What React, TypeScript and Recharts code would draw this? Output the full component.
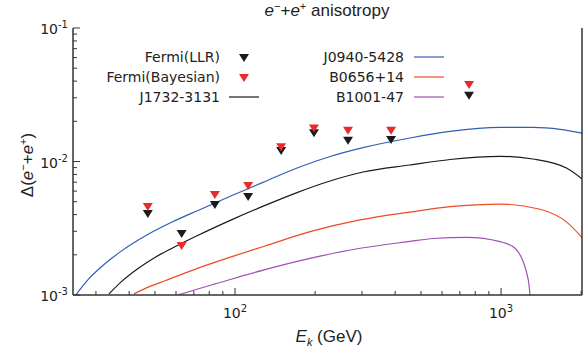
import { ComposedChart, Line, Scatter, XAxis, YAxis } from "recharts";

// tick positions (log axes)
const xTicks = [30, 40, 50, 60, 70, 80, 90, 100, 200, 300, 400, 500, 600, 700, 800, 900, 1000, 2000];
const yTicks = [
  0.001, 0.002, 0.003, 0.004, 0.005, 0.006, 0.007, 0.008, 0.009,
  0.01, 0.02, 0.03, 0.04, 0.05, 0.06, 0.07, 0.08, 0.09, 0.1,
];

// Fermi upper limits
const fermiE = [47, 63, 84, 112, 149, 198, 266, 386, 758];
const llrV = [0.00404, 0.00286, 0.00472, 0.00542, 0.012, 0.0163, 0.0143, 0.0145, 0.0311];
const bayesV = [0.00456, 0.00233, 0.00561, 0.00656, 0.0128, 0.0177, 0.017, 0.017, 0.0374];

// pulsar curves
const j0940E = [25.2, 28.3, 32.5, 37.6, 43.6, 50, 58, 72.6, 97.4, 129.7, 171.1, 227.6, 302.9, 454.9, 643.2, 991.3, 1319, 1667, 2016];
const j0940V = [0.001, 0.00133, 0.00172, 0.00215, 0.0026, 0.00304, 0.00352, 0.0043, 0.00556, 0.00709, 0.00894, 0.0109, 0.0127, 0.015, 0.0168, 0.018, 0.018, 0.0174, 0.0163];

const j1732E = [33.6, 37.6, 43.6, 50, 58, 72.6, 97.4, 129.7, 171.1, 227.6, 302.9, 454.9, 643.2, 991.3, 1319, 1770, 2016];
const j1732V = [0.00102, 0.00127, 0.0016, 0.00191, 0.00224, 0.0028, 0.00367, 0.00469, 0.00585, 0.00714, 0.00834, 0.00941, 0.01035, 0.01094, 0.01044, 0.00889, 0.0074];

const b0656E = [41.7, 47.9, 54.6, 72.6, 97.4, 129.7, 191.4, 295.1, 454.9, 643.2, 991.3, 1402, 1770, 2016];
const b0656V = [0.00102, 0.00116, 0.00128, 0.00159, 0.00194, 0.00233, 0.00298, 0.00365, 0.00418, 0.00459, 0.0048, 0.00439, 0.0035, 0.00269];

const b1001E = [61.1, 71.4, 84.1, 129.7, 191.4, 295.1, 454.9, 555.3, 745, 991.3, 1129, 1266, 1285, 1300];
const b1001V = [0.001, 0.0011, 0.00121, 0.00155, 0.00188, 0.00224, 0.00252, 0.00265, 0.0027, 0.00251, 0.00224, 0.0013, 0.001, 0.0008];

const zip = (es: number[], vs: number[]) => es.map((e, i) => ({ e, v: vs[i] }));

const BLUE = "#2c5fb5";
const BLACK = "#1a1a1a";
const ORANGE = "#ee4a24";
const PURPLE = "#a24fb3";
const RED = "#e82a2a";
const AXIS = "#333";
const TICK_FONT = "DejaVu Sans";
const LABEL_FONT = "Liberation Sans";

const isMajor = (v: number) => Math.abs(Math.log10(v) - Math.round(Math.log10(v))) < 1e-6;
const expo = (v: number) => String(Math.round(Math.log10(v)));

function Tri({ cx, cy, fill }: any) {
  if (cx == null || cy == null) return null;
  return <path d={`M${cx - 5},${cy - 4}L${cx + 5},${cy - 4}L${cx},${cy + 4}Z`} fill={fill} />;
}

function BottomTick({ x, y, payload }: any) {
  const major = isMajor(payload.value);
  return (
    <g>
      <line x1={x} x2={x} y1={y} y2={y - (major ? 7 : 4)} stroke={AXIS} />
      {major && (
        <text x={x} y={y + 23} textAnchor="middle" fontSize={14} fontFamily={TICK_FONT} fill="#222">
          <tspan>10</tspan>
          <tspan dy={-6} fontSize={10}>{expo(payload.value)}</tspan>
        </text>
      )}
    </g>
  );
}

function TopTick({ x, y, payload }: any) {
  const major = isMajor(payload.value);
  return <line x1={x} x2={x} y1={y} y2={y + (major ? 7 : 4)} stroke={AXIS} />;
}

function LeftTick({ x, y, payload }: any) {
  const major = isMajor(payload.value);
  return (
    <g>
      <line x1={x} x2={x + (major ? 7 : 4)} y1={y} y2={y} stroke={AXIS} />
      {major && (
        <text x={x - 5} y={y + 6} textAnchor="end" fontSize={14} fontFamily={TICK_FONT} fill="#222">
          <tspan>10</tspan>
          <tspan dy={-6} fontSize={10}>{expo(payload.value)}</tspan>
        </text>
      )}
    </g>
  );
}

export default function App() {
  const xDomain = [24.6, 2015];
  const yDomain = [0.001, 0.1];
  return (
    <div style={{ position: "absolute", left: 0, top: 0 }}>
      <ComposedChart width={588} height={353} margin={{ top: 28, right: 0, bottom: 0, left: 0 }}>
        <XAxis
          dataKey="e"
          type="number"
          scale="log"
          domain={xDomain}
          allowDataOverflow
          ticks={xTicks}
          interval={0}
          height={58}
          tickSize={0}
          tickMargin={0}
          tick={<BottomTick />}
          axisLine={{ stroke: AXIS, strokeWidth: 1.5 }}
        />
        <XAxis
          xAxisId="top"
          orientation="top"
          dataKey="e"
          type="number"
          scale="log"
          domain={xDomain}
          allowDataOverflow
          ticks={xTicks}
          interval={0}
          height={0}
          tickSize={0}
          tickMargin={0}
          tick={<TopTick />}
          axisLine={{ stroke: AXIS, strokeWidth: 1.5 }}
        />
        <YAxis
          dataKey="v"
          type="number"
          scale="log"
          domain={yDomain}
          allowDataOverflow
          ticks={yTicks}
          interval={0}
          width={73}
          tickSize={0}
          tickMargin={0}
          tick={<LeftTick />}
          axisLine={{ stroke: AXIS, strokeWidth: 1.5 }}
        />
        <YAxis
          yAxisId="right"
          orientation="right"
          dataKey="v"
          type="number"
          scale="log"
          domain={yDomain}
          allowDataOverflow
          width={6}
          tick={false}
          tickLine={false}
          axisLine={{ stroke: AXIS, strokeWidth: 1.5 }}
        />
        <Line data={zip(j0940E, j0940V)} dataKey="v" type="monotone" stroke={BLUE} strokeWidth={1.2} dot={false} isAnimationActive={false} />
        <Line data={zip(j1732E, j1732V)} dataKey="v" type="monotone" stroke={BLACK} strokeWidth={1.2} dot={false} isAnimationActive={false} />
        <Line data={zip(b0656E, b0656V)} dataKey="v" type="monotone" stroke={ORANGE} strokeWidth={1.2} dot={false} isAnimationActive={false} />
        <Line data={zip(b1001E, b1001V)} dataKey="v" type="monotone" stroke={PURPLE} strokeWidth={1.2} dot={false} isAnimationActive={false} />
        <Scatter data={zip(fermiE, llrV)} dataKey="v" shape={<Tri fill={BLACK} />} isAnimationActive={false} />
        <Scatter data={zip(fermiE, bayesV)} dataKey="v" shape={<Tri fill={RED} />} isAnimationActive={false} />

        {/* title */}
        <text x={327} y={16} textAnchor="middle" fontSize={17} fontFamily={LABEL_FONT} fill="#222">
          <tspan fontStyle="italic">e</tspan>
          <tspan dy={-6} fontSize={11}>−</tspan>
          <tspan dy={6}>+</tspan>
          <tspan fontStyle="italic">e</tspan>
          <tspan dy={-6} fontSize={11}>+</tspan>
          <tspan dy={6}> anisotropy</tspan>
        </text>

        {/* axis labels */}
        <text x={329} y={342} textAnchor="middle" fontSize={17} fontFamily={LABEL_FONT} fill="#222">
          <tspan fontStyle="italic">E</tspan>
          <tspan dy={4} fontSize={11} fontStyle="italic">k</tspan>
          <tspan dy={-4}> (GeV)</tspan>
        </text>
        <text
          x={0}
          y={0}
          transform="translate(33,165) rotate(-90)"
          textAnchor="middle"
          fontSize={17}
          fontFamily={LABEL_FONT}
          fill="#222"
        >
          <tspan>Δ(</tspan>
          <tspan fontStyle="italic">e</tspan>
          <tspan dy={-6} fontSize={11}>−</tspan>
          <tspan dy={6}>+</tspan>
          <tspan fontStyle="italic">e</tspan>
          <tspan dy={-6} fontSize={11}>+</tspan>
          <tspan dy={6}>)</tspan>
        </text>

        {/* legend */}
        <g fontSize={14} fontFamily={TICK_FONT} fill="#222">
          <text x={220} y={62} textAnchor="end">Fermi(LLR)</text>
          <text x={220} y={82} textAnchor="end">Fermi(Bayesian)</text>
          <text x={220} y={102} textAnchor="end">J1732-3131</text>
          <text x={404} y={62} textAnchor="end">J0940-5428</text>
          <text x={404} y={82} textAnchor="end">B0656+14</text>
          <text x={404} y={102} textAnchor="end">B1001-47</text>
        </g>
        <Tri cx={244} cy={58} fill={BLACK} />
        <Tri cx={244} cy={78} fill={RED} />
        <line x1={229} x2={259} y1={97} y2={97} stroke={BLACK} strokeWidth={1.2} />
        <line x1={414} x2={444} y1={57} y2={57} stroke={BLUE} strokeWidth={1.2} />
        <line x1={414} x2={444} y1={77} y2={77} stroke={ORANGE} strokeWidth={1.2} />
        <line x1={414} x2={444} y1={97} y2={97} stroke={PURPLE} strokeWidth={1.2} />
      </ComposedChart>
    </div>
  );
}
